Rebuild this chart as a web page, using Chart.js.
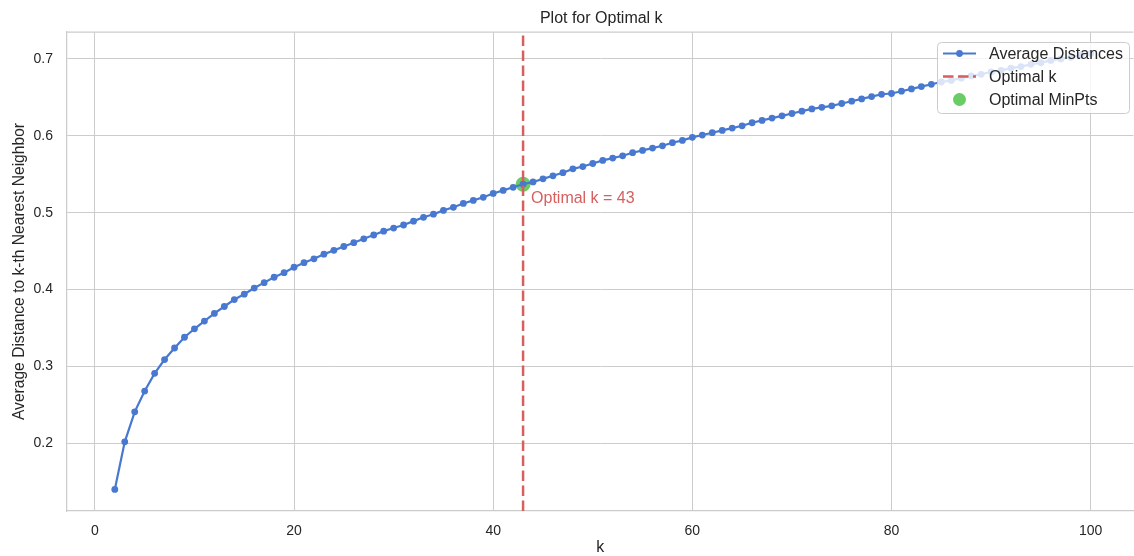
<!DOCTYPE html>
<html>
<head>
<meta charset="utf-8">
<title>Plot for Optimal k</title>
<script src="https://cdn.jsdelivr.net/npm/chart.js@4.4.1/dist/chart.umd.min.js"></script>
<style>
  html, body { margin: 0; padding: 0; background: #fff; overflow: hidden; }
  #wrap { width: 1134px; height: 556px; position: relative; overflow: hidden; }
</style>
</head>
<body>
<div id="wrap"><canvas id="chart" width="1141" height="556"></canvas></div>
<script>
// k values and the average distance to the k-th nearest neighbour
const kValues = [
  2, 3, 4, 5, 6, 7, 8, 9, 10, 11, 12, 13, 14, 15, 16, 17, 18, 19, 20,
  21, 22, 23, 24, 25, 26, 27, 28, 29, 30, 31, 32, 33, 34, 35, 36, 37, 38, 39, 40,
  41, 42, 43, 44, 45, 46, 47, 48, 49, 50, 51, 52, 53, 54, 55, 56, 57, 58, 59, 60,
  61, 62, 63, 64, 65, 66, 67, 68, 69, 70, 71, 72, 73, 74, 75, 76, 77, 78, 79, 80,
  81, 82, 83, 84, 85, 86, 87, 88, 89, 90, 91, 92, 93, 94, 95, 96, 97, 98, 99, 100
];
const avgDistances = [
  0.140, 0.202, 0.241, 0.268, 0.291, 0.309, 0.324, 0.338, 0.349, 0.359, 0.369, 0.378, 0.387, 0.394, 0.402, 0.409, 0.416, 0.422, 0.429,
  0.435, 0.440, 0.446, 0.451, 0.456, 0.461, 0.466, 0.471, 0.476, 0.480, 0.484, 0.489, 0.494, 0.498, 0.503, 0.507, 0.512, 0.516, 0.520, 0.525,
  0.529, 0.533, 0.537, 0.540, 0.544, 0.548, 0.552, 0.557, 0.560, 0.564, 0.568, 0.571, 0.574, 0.578, 0.581, 0.584, 0.587, 0.591, 0.594, 0.598,
  0.601, 0.604, 0.607, 0.610, 0.613, 0.617, 0.620, 0.623, 0.626, 0.629, 0.632, 0.635, 0.637, 0.639, 0.642, 0.645, 0.648, 0.651, 0.654, 0.655,
  0.658, 0.661, 0.664, 0.667, 0.670, 0.672, 0.675, 0.678, 0.680, 0.683, 0.685, 0.688, 0.690, 0.693, 0.695, 0.698, 0.700, 0.702, 0.705, 0.707
];
const optimalK = 43;
const optimalDistance = 0.537;
const xTicks = [0, 20, 40, 60, 80, 100];
const yTicks = [0.2, 0.3, 0.4, 0.5, 0.6, 0.7];
const xRange = [-2.8, 104.3];
const yRange = [0.112, 0.735];
const chartTitle = 'Plot for Optimal k';
const annotation = { text: 'Optimal k = 43', x: 43.8, y: 0.518 };

const BLUE = '#4878d0';
const RED = '#d65f5f';
const GREEN = '#6acc64';
const GRID = '#cccccc';
const TEXT = '#262626';
const FONT = '"Liberation Sans", Arial, sans-serif';
const DASH = [10.5, 4.5];

// title centred over the plot area, plus the top spine
const framePlugin = {
  id: 'frame',
  beforeDatasetsDraw(chart) {
    const { ctx, chartArea: a } = chart;
    ctx.save();
    ctx.strokeStyle = GRID;
    ctx.lineWidth = 1.25;
    ctx.beginPath();
    ctx.moveTo(a.left, a.top);
    ctx.lineTo(a.right, a.top);
    ctx.stroke();

    ctx.fillStyle = TEXT;
    ctx.font = '16px ' + FONT;
    ctx.textAlign = 'center';
    ctx.textBaseline = 'middle';
    ctx.fillText(chartTitle, (a.left + a.right) / 2 + 1, 19);
    ctx.restore();
  }
};

// "Optimal k = 43" label next to the marker
const annotationPlugin = {
  id: 'annotation',
  afterDatasetsDraw(chart) {
    const { ctx, scales } = chart;
    ctx.save();
    ctx.fillStyle = RED;
    ctx.font = '16px ' + FONT;
    ctx.textAlign = 'left';
    ctx.textBaseline = 'middle';
    ctx.fillText(annotation.text, scales.x.getPixelForValue(annotation.x), scales.y.getPixelForValue(annotation.y));
    ctx.restore();
  }
};

// matplotlib-style legend inside the upper right corner
const legendPlugin = {
  id: 'innerLegend',
  afterDraw(chart) {
    const { ctx } = chart;
    const w = 192, h = 71;
    const left = 937, top = 42;
    ctx.save();
    ctx.beginPath();
    ctx.roundRect(left + 0.5, top + 0.5, w, h, 4);
    ctx.fillStyle = 'rgba(255,255,255,0.8)';
    ctx.fill();
    ctx.strokeStyle = GRID;
    ctx.lineWidth = 1;
    ctx.stroke();

    ctx.font = '16px ' + FONT;
    ctx.textBaseline = 'middle';
    chart.data.datasets.forEach((ds, i) => {
      const y = top + 11.5 + i * 23;
      const x0 = left + 6, x1 = left + 39, xm = (x0 + x1) / 2;
      if (i === 2) {
        ctx.beginPath();
        ctx.arc(xm, y, 6.5, 0, Math.PI * 2);
        ctx.fillStyle = ds.backgroundColor;
        ctx.fill();
      } else {
        ctx.beginPath();
        ctx.setLineDash(ds.borderDash || []);
        ctx.strokeStyle = ds.borderColor;
        ctx.lineWidth = ds.borderWidth;
        ctx.moveTo(x0, y);
        ctx.lineTo(x1, y);
        ctx.stroke();
        ctx.setLineDash([]);
        if (ds.pointRadius) {
          ctx.beginPath();
          ctx.arc(xm, y, ds.pointRadius, 0, Math.PI * 2);
          ctx.fillStyle = ds.borderColor;
          ctx.fill();
        }
      }
      ctx.fillStyle = TEXT;
      ctx.fillText(ds.label, left + 52, y + 1);
    });
    ctx.restore();
  }
};

new Chart(document.getElementById('chart'), {
  type: 'line',
  data: {
    datasets: [
      {
        label: 'Average Distances',
        data: kValues.map((k, i) => ({ x: k, y: avgDistances[i] })),
        borderColor: BLUE,
        backgroundColor: BLUE,
        borderWidth: 2.2,
        pointRadius: 3.4,
        pointBorderWidth: 0,
        tension: 0,
        order: 2
      },
      {
        label: 'Optimal k',
        data: [{ x: optimalK, y: yRange[0] }, { x: optimalK, y: yRange[1] }],
        borderColor: RED,
        backgroundColor: RED,
        borderWidth: 2.5,
        borderDash: DASH,
        pointRadius: 0,
        order: 1
      },
      {
        type: 'scatter',
        label: 'Optimal MinPts',
        data: [{ x: optimalK, y: optimalDistance }],
        backgroundColor: GREEN,
        borderColor: GREEN,
        borderWidth: 0,
        pointRadius: 7.5,
        order: 3
      }
    ]
  },
  options: {
    responsive: false,
    devicePixelRatio: 1,
    animation: false,
    events: [],
    layout: { padding: { left: 0, right: 0, top: 32, bottom: 0 } },
    plugins: {
      legend: { display: false },
      tooltip: { enabled: false },
      title: { display: false }
    },
    scales: {
      x: {
        type: 'linear',
        min: xRange[0],
        max: xRange[1],
        afterBuildTicks: s => { s.ticks = xTicks.map(v => ({ value: v })); },
        afterFit: s => { s.height = 45; },
        ticks: { color: TEXT, font: { family: FONT, size: 14 }, padding: 12, maxRotation: 0 },
        grid: { color: GRID, lineWidth: 1, drawTicks: false },
        border: { color: GRID, width: 1.25 },
        title: {
          display: true,
          text: 'k',
          color: TEXT,
          font: { family: FONT, size: 16, lineHeight: 1 },
          padding: { top: 0, bottom: 0 }
        }
      },
      y: {
        type: 'linear',
        min: yRange[0],
        max: yRange[1],
        afterBuildTicks: s => { s.ticks = yTicks.map(v => ({ value: v })); },
        afterFit: s => { s.width = 67; },
        ticks: { color: TEXT, font: { family: FONT, size: 14 }, padding: 14, callback: v => v.toFixed(1) },
        grid: { color: GRID, lineWidth: 1, drawTicks: false },
        border: { color: GRID, width: 1.25 },
        title: {
          display: true,
          text: 'Average Distance to k-th Nearest Neighbor',
          color: TEXT,
          font: { family: FONT, size: 15.6 },
          padding: { top: 10, bottom: 0 }
        }
      }
    }
  },
  plugins: [framePlugin, annotationPlugin, legendPlugin]
});
</script>
</body>
</html>
